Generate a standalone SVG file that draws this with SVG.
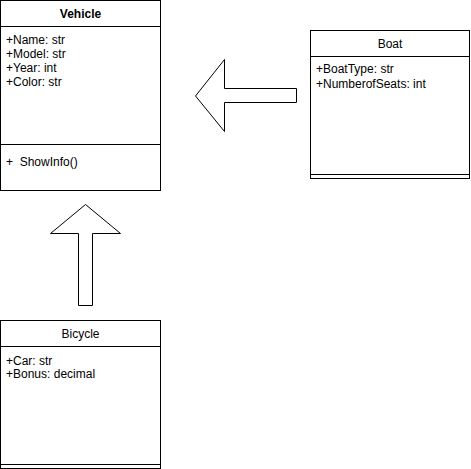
<svg xmlns="http://www.w3.org/2000/svg" width="471" height="469" viewBox="0 0 471 469">
<style>
.box{fill:#fff;stroke:#000;stroke-width:1}
.ln{stroke:#000;stroke-width:1;fill:none}
.t{font-family:"Liberation Sans",Arial,sans-serif;font-size:12px;fill:#000}
.title{text-anchor:middle}
.b{font-weight:bold}
.arrow{fill:#fff;stroke:#000;stroke-width:1}
</style>
<rect width="471" height="469" fill="#fff"/>
<g id="vehicle">
<rect class="box" x="0.5" y="0.5" width="160" height="190"/>
<line class="ln" x1="0.5" y1="26.5" x2="160.5" y2="26.5"/>
<line class="ln" x1="0.5" y1="144.5" x2="160.5" y2="144.5"/>
<text class="t title b" x="80.5" y="18">Vehicle</text>
<text class="t" x="6" y="44">+Name: str</text>
<text class="t" x="6" y="58">+Model: str</text>
<text class="t" x="6" y="72">+Year: int</text>
<text class="t" x="6" y="86">+Color: str</text>
<text class="t" x="6" y="166" xml:space="preserve">+  ShowInfo()</text>
</g>
<g id="boat">
<rect class="box" x="310.5" y="30.5" width="159" height="148"/>
<line class="ln" x1="310.5" y1="56.5" x2="469.5" y2="56.5"/>
<line class="ln" x1="310.5" y1="174.5" x2="469.5" y2="174.5"/>
<text class="t title" x="390" y="48">Boat</text>
<text class="t" x="316" y="73">+BoatType: str</text>
<text class="t" x="316" y="88">+NumberofSeats: int</text>
</g>
<g id="bicycle">
<rect class="box" x="0.5" y="320.5" width="160" height="148"/>
<line class="ln" x1="0.5" y1="346.5" x2="160.5" y2="346.5"/>
<line class="ln" x1="0.5" y1="464.5" x2="160.5" y2="464.5"/>
<text class="t title" x="80.5" y="338">Bicycle</text>
<text class="t" x="6" y="365">+Car: str</text>
<text class="t" x="6" y="378">+Bonus: decimal</text>
</g>
<g id="connectors">
<polygon class="arrow" points="195.5,96 224.5,59.5 224.5,88.5 296.5,88.5 296.5,102.5 224.5,102.5 224.5,131.5"/>
<polygon class="arrow" points="85.5,204.5 120.5,233.5 92.5,233.5 92.5,305.5 78.5,305.5 78.5,233.5 50.5,233.5"/>
</g>
</svg>
